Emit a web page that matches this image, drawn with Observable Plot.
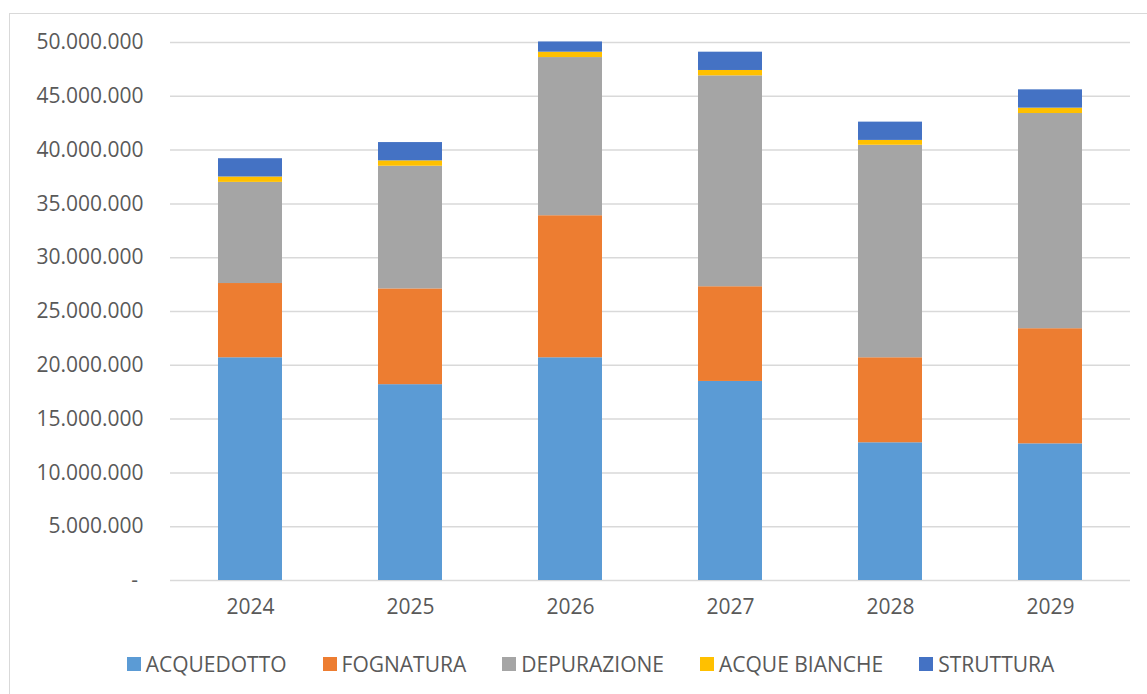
<!DOCTYPE html>
<html>
<head>
<meta charset="utf-8">
<script src="https://cdn.jsdelivr.net/npm/d3@7"></script>
<script src="https://cdn.jsdelivr.net/npm/@observablehq/plot@0.6"></script>
<style>
  html, body { margin: 0; padding: 0; background: #fff; }
  #wrap { position: relative; width: 1147px; height: 694px; overflow: hidden; font-family: "Open Sans", sans-serif; }
  #frame { position: absolute; left: 9px; top: 13px; width: 1160px; height: 690px; border: 1px solid #d9d9d9; box-sizing: border-box; }
  #chart { position: absolute; left: 0; top: 0; }
  #legend { position: absolute; top: 650px; left: 0; width: 1147px; display: flex; justify-content: center; gap: 36px; font-size: 21px; color: #595959; padding-left: 34px; box-sizing: border-box; }
  .item { display: flex; align-items: center; }
  .sw { width: 14px; height: 14px; margin-right: 5px; display: inline-block; }
</style>
</head>
<body>
<div id="wrap">
  <div id="frame"></div>
  <div id="chart"></div>
  <div id="legend"></div>
</div>
<script>
const years = ["2024", "2025", "2026", "2027", "2028", "2029"];
const series = ["ACQUEDOTTO", "FOGNATURA", "DEPURAZIONE", "ACQUE BIANCHE", "STRUTTURA"];
const colors = ["#5B9BD5", "#ED7D31", "#A5A5A5", "#FFC000", "#4472C4"];

const acquedotto   = [20700000, 18200000, 20700000, 18500000, 12800000, 12700000];
const fognatura    = [ 6900000,  8900000, 13200000,  8800000,  7900000, 10700000];
const depurazione  = [ 9400000, 11400000, 14700000, 19600000, 19750000, 20000000];
const acqueBianche = [  500000,   500000,   500000,   500000,   450000,   500000];
const struttura    = [ 1700000,  1700000,   950000,  1700000,  1700000,  1700000];
const yTicks = [0, 5000000, 10000000, 15000000, 20000000, 25000000, 30000000, 35000000, 40000000, 45000000, 50000000];

const valuesBySeries = [acquedotto, fognatura, depurazione, acqueBianche, struttura];
const data = [];
series.forEach((s, i) => {
  years.forEach((y, j) => data.push({ year: y, series: s, value: valuesBySeries[i][j] }));
});

const it = d3.formatLocale({ decimal: ",", thousands: ".", grouping: [3], currency: ["€", ""] });
const fmt = it.format(",");

const plot = Plot.plot({
  width: 1147,
  height: 630,
  marginTop: 42,
  marginBottom: 50,
  marginLeft: 170,
  marginRight: 17,
  style: { fontFamily: "Open Sans, sans-serif", fontSize: "21px", color: "#595959", background: "transparent" },
  x: { domain: years, paddingInner: 0.6, paddingOuter: 0.3, label: null },
  y: { domain: [0, 50000000], label: null },
  color: { domain: series, range: colors },
  marks: [
    Plot.gridY(yTicks, { stroke: "#d9d9d9", strokeOpacity: 1, strokeWidth: 1.5 }),
    Plot.barY(data, { x: "year", y: "value", fill: "series", z: "series", order: series }),
    Plot.axisY({ ticks: yTicks, tickSize: 0, tickPadding: 27, tickFormat: d => d === 0 ? "- " : fmt(d), fontSize: 21, fill: "#595959", label: null }),
    Plot.axisX({ tickSize: 0, tickPadding: 19, fontSize: 21, fill: "#595959", label: null })
  ]
});
document.getElementById("chart").appendChild(plot);

const legend = document.getElementById("legend");
series.forEach((s, i) => {
  const item = document.createElement("div");
  item.className = "item";
  const sw = document.createElement("span");
  sw.className = "sw";
  sw.style.background = colors[i];
  const t = document.createElement("span");
  t.textContent = s;
  item.appendChild(sw);
  item.appendChild(t);
  legend.appendChild(item);
});
</script>
</body>
</html>
